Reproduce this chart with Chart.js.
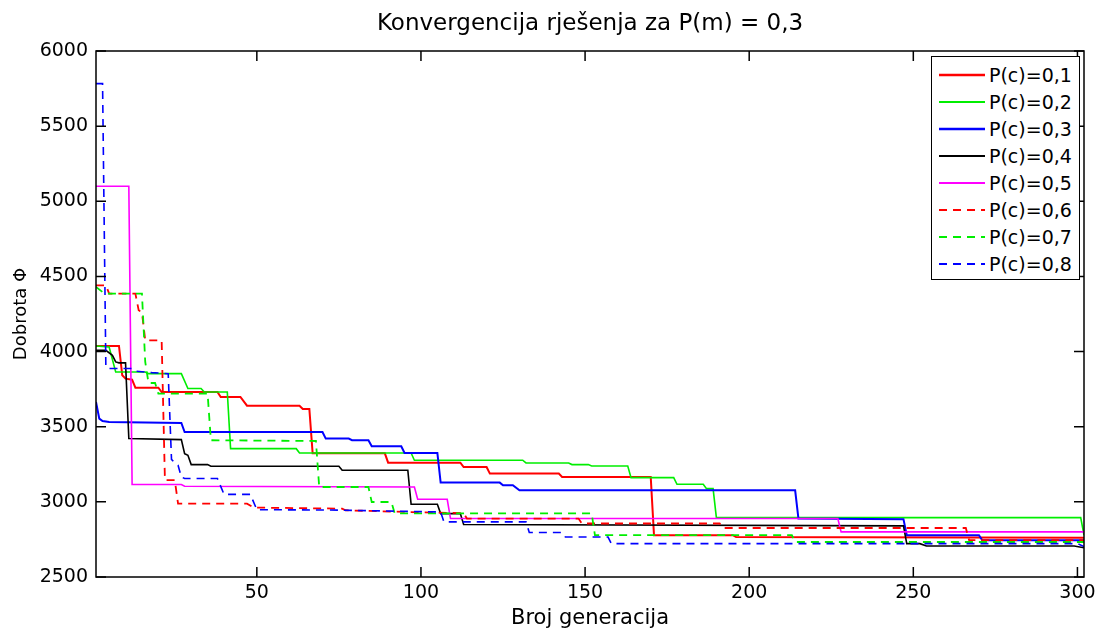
<!DOCTYPE html>
<html>
<head>
<meta charset="utf-8">
<title>Konvergencija rješenja</title>
<script src="https://cdn.jsdelivr.net/npm/chart.js@4.4.1/dist/chart.umd.min.js"></script>
<style>
  body { margin: 0; background: #fff; }
  #wrap { position: relative; width: 1102px; height: 634px; }
  #legend {
    position: absolute; left: 931px; top: 56px; width: 149px; height: 224px;
    box-sizing: border-box; border: 1.5px solid #000; background: #fff;
    padding-top: 4px; font-family: "DejaVu Sans", sans-serif; font-size: 19px; color: #000;
  }
  .row { display: flex; align-items: center; height: 27.1px; }
  .row svg { margin-left: 7px; margin-right: 4px; }
</style>
</head>
<body>
<div id="wrap">
  <canvas id="chart" width="1102" height="634"></canvas>
  <div id="legend"></div>
</div>
<script>
// ==============================
// DATA  (generation, fitness)
// ==============================
const TITLE = "Konvergencija rješenja za P(m) = 0,3";
const X_LABEL = "Broj generacija";
const Y_LABEL = "Dobrota Φ";

const xTicks = [50, 100, 150, 200, 250, 300];
const yTicks = [2500, 3000, 3500, 4000, 4500, 5000, 5500, 6000];

const seriesLabels = ["P(c)=0,1", "P(c)=0,2", "P(c)=0,3", "P(c)=0,4",
                      "P(c)=0,5", "P(c)=0,6", "P(c)=0,7", "P(c)=0,8"];

const pc01 = [[1,4037],[8,4037],[9,3842],[10,3820],[12,3813],[13,3760],[20,3760],[21,3731],[38,3731],[39,3698],
  [45,3698],[47,3640],[63,3640],[64,3618],[66,3618],[67,3323],[89,3323],[90,3261],[112,3261],[113,3232],
  [120,3232],[121,3188],[142,3188],[143,3166],[170,3166],[171,2778],[195,2778],[196,2766],[302,2762]];

const pc02 = [[1,4037],[5,4030],[7,3864],[16,3864],[17,3853],[27,3853],[29,3754],[33,3754],[34,3731],[41,3731],
  [42,3354],[62,3354],[63,3325],[97,3325],[98,3277],[131,3277],[132,3259],[145,3259],[146,3248],[151,3248],
  [152,3239],[163,3239],[164,3161],[177,3161],[178,3117],[186,3117],[187,3088],[189,3088],[190,2895],
  [301,2895],[302,2778]];

const pc03 = [[1,3664],[2,3554],[3,3538],[5,3531],[27,3525],[28,3465],[70,3465],[71,3421],[78,3421],[79,3410],
  [84,3410],[85,3370],[94,3370],[95,3325],[105,3325],[106,3128],[124,3128],[125,3110],[128,3110],[130,3077],
  [214,3077],[215,2889],[247,2885],[248,2778],[270,2778],[271,2744],[302,2744]];

const pc04 = [[1,4008],[4,4008],[6,3975],[7,3931],[8,3925],[10,3925],[11,3421],[27,3414],[28,3321],[29,3310],
  [30,3248],[35,3248],[36,3237],[75,3237],[76,3210],[96,3210],[97,2984],[105,2984],[106,2922],[112,2922],
  [113,2849],[247,2840],[248,2722],[252,2722],[254,2706],[299,2706],[302,2695]];

const pc05 = [[1,5100],[11,5100],[12,3115],[27,3115],[28,3104],[98,3099],[99,3017],[108,3017],[109,2889],
  [227,2889],[228,2800],[302,2800]];

const pc06 = [[1,4441],[4,4441],[5,4386],[13,4386],[14,4275],[15,4260],[16,4075],[21,4075],[22,3144],[25,3144],
  [26,2988],[47,2988],[49,2962],[76,2955],[77,2944],[100,2930],[113,2925],[114,2889],[148,2889],[149,2856],
  [191,2856],[192,2826],[266,2826],[267,2745],[302,2745]];

const pc07 = [[1,4430],[3,4396],[4,4386],[15,4386],[16,3931],[17,3791],[19,3791],[20,3720],[35,3720],[36,3410],
  [68,3405],[69,3099],[84,3099],[85,2999],[91,2999],[92,2924],[152,2924],[153,2778],[213,2778],[214,2733],
  [302,2733]];

const pc08 = [[1,5783],[3,5783],[4,3897],[5,3887],[12,3887],[13,3870],[18,3860],[23,3853],[24,3283],[25,3260],
  [26,3243],[27,3166],[28,3155],[38,3155],[40,3050],[48,3050],[50,2948],[75,2945],[106,2933],[107,2867],
  [132,2867],[133,2796],[143,2796],[144,2766],[157,2766],[158,2722],[300,2722],[302,2702]];

const seriesData = [pc01, pc02, pc03, pc04, pc05, pc06, pc07, pc08];

// ==============================
// STYLE
// ==============================
const FONT = "DejaVu Sans";
const seriesColors = ["#ff0000", "#00ee00", "#0000ff", "#000000", "#ff00ff", "#ff0000", "#00ee00", "#0000ff"];
const seriesWidths = [2, 1.6, 2, 1.6, 1.6, 1.8, 1.8, 1.6];
const seriesDashed = [false, false, false, false, false, true, true, true];
const DASH = [8, 6];

// box + inward ticks like the original plot
const frameTicks = {
  id: "frameTicks",
  afterDatasetsDraw(chart) {
    const { ctx, chartArea: a, scales } = chart;
    const len = 10;
    ctx.save();
    ctx.strokeStyle = "#000";
    ctx.lineWidth = 1.5;
    ctx.strokeRect(a.left, a.top, a.right - a.left, a.bottom - a.top);
    ctx.beginPath();
    xTicks.forEach(v => {
      const px = scales.x.getPixelForValue(v);
      ctx.moveTo(px, a.bottom); ctx.lineTo(px, a.bottom - len);
      ctx.moveTo(px, a.top); ctx.lineTo(px, a.top + len);
    });
    yTicks.forEach(v => {
      const py = scales.y.getPixelForValue(v);
      ctx.moveTo(a.left, py); ctx.lineTo(a.left + len, py);
      ctx.moveTo(a.right, py); ctx.lineTo(a.right - len, py);
    });
    ctx.stroke();
    ctx.restore();
  }
};

// title centred over the axes, not the canvas
const plotTitle = {
  id: "plotTitle",
  afterDraw(chart) {
    const { ctx, chartArea: a } = chart;
    ctx.save();
    ctx.font = `23px "${FONT}"`;
    ctx.fillStyle = "#000";
    ctx.textAlign = "center";
    ctx.textBaseline = "middle";
    ctx.fillText(TITLE, (a.left + a.right) / 2, 24);
    ctx.restore();
  }
};

// ==============================
// CHART
// ==============================
const datasets = seriesData.map((d, i) => ({
  label: seriesLabels[i],
  data: d,
  borderColor: seriesColors[i],
  borderWidth: seriesWidths[i],
  borderDash: seriesDashed[i] ? DASH : [],
  pointRadius: 0,
  tension: 0,
  fill: false,
  order: seriesData.length - i
}));

new Chart(document.getElementById("chart").getContext("2d"), {
  type: "line",
  data: { datasets },
  plugins: [frameTicks, plotTitle],
  options: {
    responsive: false,
    animation: false,
    layout: { padding: { left: 0, right: 18, top: 51, bottom: 0 } },
    plugins: { legend: { display: false }, title: { display: false }, tooltip: { enabled: false } },
    scales: {
      x: {
        type: "linear", min: 1, max: 302,
        grid: { display: false, drawTicks: false }, border: { display: false },
        afterBuildTicks: s => { s.ticks = xTicks.map(v => ({ value: v })); },
        afterFit: s => { s.height = 57; },
        ticks: { color: "#000", font: { family: FONT, size: 19 }, padding: 5, maxRotation: 0, autoSkip: false,
                 callback: v => String(v) },
        title: { display: true, text: X_LABEL, color: "#000", font: { family: FONT, size: 21 }, padding: { top: 0, bottom: 3 } }
      },
      y: {
        type: "linear", min: 2500, max: 6000,
        grid: { display: false, drawTicks: false }, border: { display: false },
        afterBuildTicks: s => { s.ticks = yTicks.map(v => ({ value: v })); },
        afterFit: s => { s.width = 96; },
        ticks: { color: "#000", font: { family: FONT, size: 19 }, padding: 8, autoSkip: false,
                 callback: v => String(v) },
        title: { display: true, text: Y_LABEL, color: "#000", font: { family: FONT, size: 18 }, padding: { top: 11, bottom: 0 } }
      }
    }
  }
});

// ==============================
// LEGEND (inside the axes, top right)
// ==============================
const legend = document.getElementById("legend");
seriesLabels.forEach((label, i) => {
  const row = document.createElement("div");
  row.className = "row";
  const dash = seriesDashed[i] ? `stroke-dasharray="${DASH.join(",")}"` : "";
  row.innerHTML = `<svg width="46" height="6"><line x1="0" y1="3" x2="46" y2="3" stroke="${seriesColors[i]}"
    stroke-width="${seriesWidths[i] + 0.4}" ${dash}/></svg><span>${label}</span>`;
  legend.appendChild(row);
});
</script>
</body>
</html>
